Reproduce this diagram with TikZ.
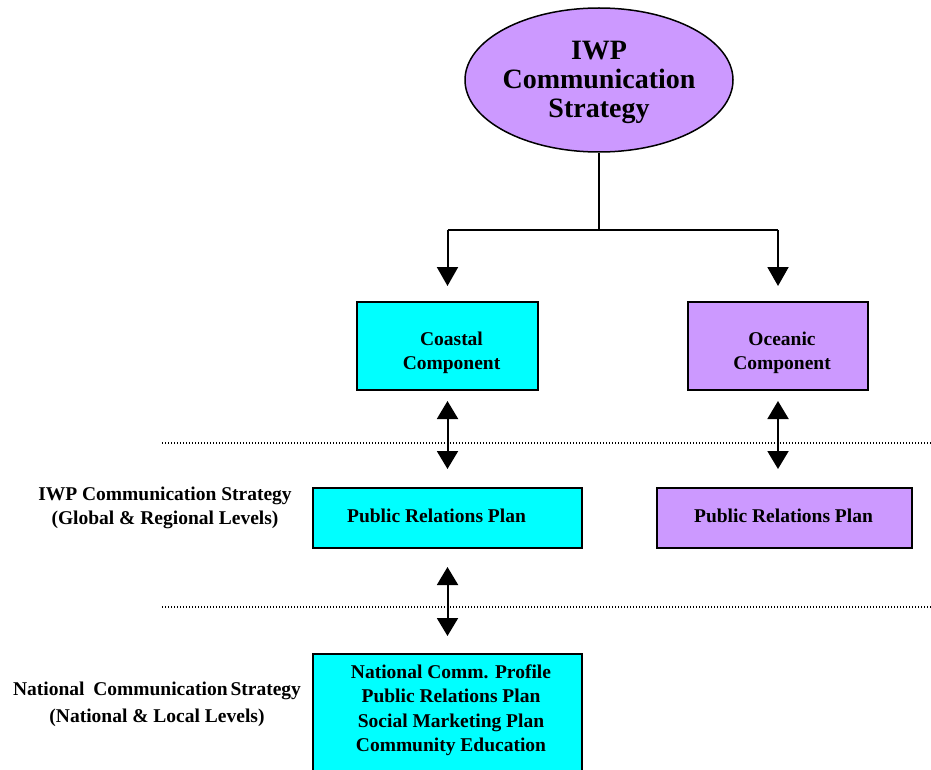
\documentclass[tikz,border=0pt]{standalone}
\usepackage{fontspec}
\setmainfont{Liberation Serif}
\usetikzlibrary{arrows.meta,shapes.geometric}
\definecolor{cyanfill}{RGB}{0,255,255}
\definecolor{purplefill}{RGB}{204,153,255}
\begin{document}
\begin{tikzpicture}[x=1pt,y=-1pt,
  box/.style={draw=black, line width=2pt, inner sep=0pt},
  txt/.style={font=\fontsize{19.5}{24.5}\selectfont\bfseries, align=center, inner sep=0pt},
  conn/.style={line width=2pt},
  tipone/.style={-{Triangle[width=21pt,length=19pt]}},
  tiptwo/.style={{Triangle[width=21pt,length=18pt]}-{Triangle[width=21pt,length=18pt]}},
  dots/.style={line width=1.2pt, dash pattern=on 1.3pt off 1.7pt}]
\useasboundingbox (0,0) rectangle (931,770);
\clip (0,0) rectangle (931,770);

% top ellipse
\node[ellipse, draw, line width=1.5pt, fill=purplefill, minimum width=268pt, minimum height=144pt, inner sep=0pt] (iwp) at (599,80) {};
\node[txt, font=\fontsize{28}{29}\selectfont\bfseries] (iwpt) at (599,82) {IWP\\Communication\\Strategy};

% components
\node[box, fill=cyanfill, minimum width=181pt, minimum height=88pt] (coastal) at (447.5,346) {};
\node[txt] (coastalt) at ([xshift=4pt,yshift=-7pt]coastal.center) {Coastal\\Component};
\node[box, fill=purplefill, minimum width=180pt, minimum height=88pt] (oceanic) at (778,346) {};
\node[txt] (oceanict) at ([xshift=4pt,yshift=-7pt]oceanic.center) {Oceanic\\Component};

% PR plans
\node[box, fill=cyanfill, minimum width=269pt, minimum height=60pt] (pr1) at (447.5,518) {};
\node[txt] (pr1t) at ([xshift=-11pt,yshift=2pt]pr1.center) {Public Relations Plan};
\node[box, fill=purplefill, minimum width=255pt, minimum height=60pt] (pr2) at (784.5,518) {};
\node[txt] (pr2t) at ([xshift=-1pt,yshift=2pt]pr2.center) {Public Relations Plan};

% national box
\node[box, fill=cyanfill, minimum width=269pt, minimum height=150pt, anchor=north] (nat) at (447.5,653) {};
\node[txt] (natt) at (451,710) {National Comm. Profile\\Public Relations Plan\\Social Marketing Plan\\Community Education};

% left labels
\node[txt] (lab1) at (165,508) {IWP Communication Strategy\\(Global \& Regional Levels)};
\node[txt, font=\fontsize{19.5}{27}\selectfont\bfseries] (lab2) at (157,704) {National\hspace{0.2em} Communication\hspace{-0.1em} Strategy\\(National \& Local Levels)};

% dotted separators
\coordinate (d1a) at (162,443);
\coordinate (d1b) at (931,443);
\coordinate (d2a) at (162,607);
\coordinate (d2b) at (931,607);
\draw[dots] (d1a) -- (d1b);
\draw[dots] (d2a) -- (d2b);

% connectors
\draw[conn] (iwp.south) -- ++(0,77) coordinate (j);
\coordinate (jl) at (coastal.north |- j);
\coordinate (jr) at (oceanic.north |- j);
\draw[conn] (jl) -- (jr);
\draw[conn, tipone, shorten >=15pt] (jl) -- (coastal.north);
\draw[conn, tipone, shorten >=15pt] (jr) -- (oceanic.north);
\draw[conn, tiptwo, shorten <=10pt, shorten >=18pt] (coastal.south) -- (coastal.south |- pr1.north);
\draw[conn, tiptwo, shorten <=10pt, shorten >=18pt] (oceanic.south) -- (oceanic.south |- pr2.north);
\draw[conn, tiptwo, shorten <=18pt, shorten >=17pt] (pr1.south) -- (nat.north);
\end{tikzpicture}
\end{document}
